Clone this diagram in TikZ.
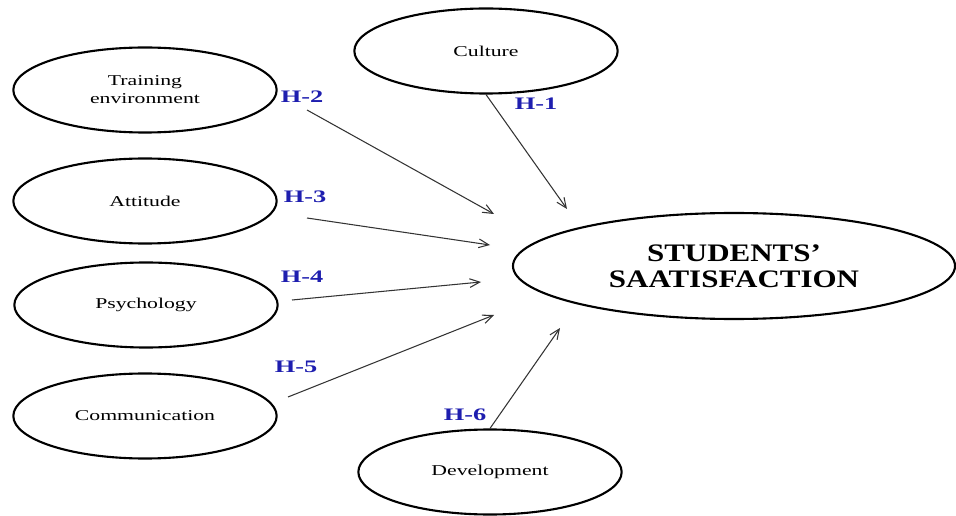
\documentclass[tikz,border=0pt]{standalone}
\usepackage{fontspec}
\setmainfont[FakeStretch=1.45]{Liberation Serif}
\newfontfamily\bigfont[FakeStretch=1.23]{Liberation Serif}
\newfontfamily\hypfont[FakeStretch=1.5]{Liberation Serif}
\usepackage{xcolor}
\definecolor{hypBlue}{RGB}{30, 30, 175}
\usepackage{tikz}
\usetikzlibrary{shapes.geometric, arrows.meta, positioning}

\begin{document}
\begin{tikzpicture}[x=0.03cm, y=-0.03cm,
  factor/.style={ellipse, draw=black, line width=1.8pt, fill=white,
                 minimum width=7.9cm, minimum height=2.55cm, inner sep=0pt,
                 align=center, font=\fontsize{12.8}{15.5}\selectfont},
  target/.style={ellipse, draw=black, line width=1.8pt, fill=white,
                 minimum width=13.26cm, minimum height=3.18cm, inner sep=0pt,
                 align=center, font=\bigfont\bfseries\fontsize{21.5}{22.5}\selectfont},
  hyp/.style={text=hypBlue, font=\hypfont\bfseries\fontsize{15}{16}\selectfont, inner sep=0pt},
  arrow/.style={-{Straight Barb[length=3mm, width=2.6mm]}, line width=0.9pt, black!80},
]
  \useasboundingbox (0,0) rectangle (956,516);

  \node[factor] (train) at (145,90) {Training\\environment};
  \node[factor] (att) at (145,201) {Attitude};
  \node[factor] (psy) at (146,305) {Psychology};
  \node[factor] (com) at (145,416) {Communication};
  \node[factor] (cul) at (486,51) {Culture};
  \node[factor] (dev) at (490,472) {Development};
  \node[target] (sat) at (734,266) {STUDENTS’\\SAATISFACTION};

  \coordinate (s2) at (307,110);
  \coordinate (t2) at (494,214);
  \coordinate (s3) at (307,218);
  \coordinate (t3) at (490,245);
  \coordinate (s4) at (292,300);
  \coordinate (t4) at (481,282);
  \coordinate (s5) at (288,397);
  \coordinate (t5) at (494,315);
  \coordinate (t1) at (567,209);
  \coordinate (t6) at (560,328);

  \draw[arrow] (cul.south) -- (t1);
  \draw[arrow] (s2) -- (t2);
  \draw[arrow] (s3) -- (t3);
  \draw[arrow] (s4) -- (t4);
  \draw[arrow] (s5) -- (t5);
  \draw[arrow] (dev.north) -- (t6);

  \node[hyp] (h1) at (536,104) {H-1};
  \node[hyp] (h2) at (302,97) {H-2};
  \node[hyp] (h3) at (305,197) {H-3};
  \node[hyp] (h4) at (302,277) {H-4};
  \node[hyp] (h5) at (296,367) {H-5};
  \node[hyp] (h6) at (465,415) {H-6};
\end{tikzpicture}
\end{document}
